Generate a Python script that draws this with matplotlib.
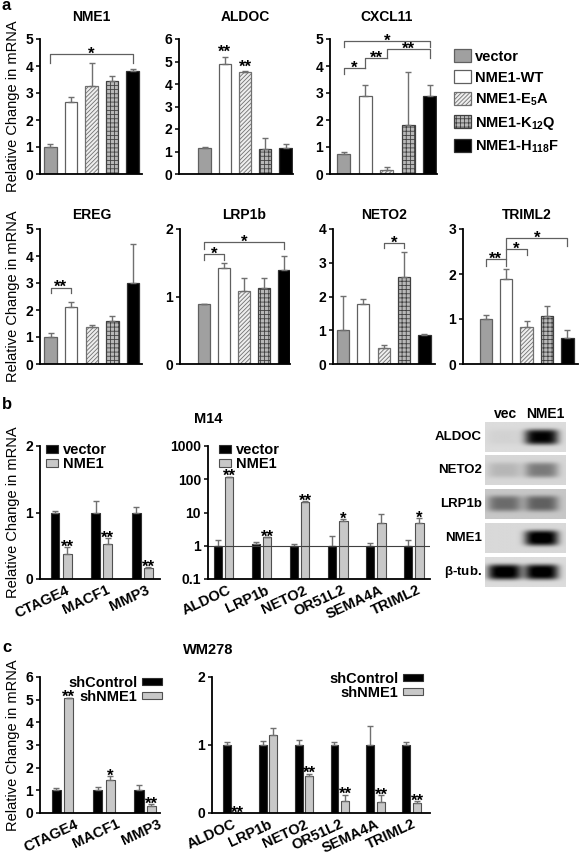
import numpy as np
import matplotlib.pyplot as plt
from matplotlib.patches import Patch
from matplotlib.transforms import blended_transform_factory

plt.rcParams['font.family'] = ['Liberation Sans', 'DejaVu Sans']
plt.rcParams['font.weight'] = 'bold'
plt.rcParams['mathtext.default'] = 'regular'
plt.rcParams['hatch.linewidth'] = 0.6

W, H = 579, 857

# ---------------- data: panel a ----------------
constructs = ['vector', 'NME1-WT', 'NME1-E$_5$A', 'NME1-K$_{12}$Q', 'NME1-H$_{118}$F']

nme1_mean = [1.0, 2.65, 3.25, 3.45, 3.8]
nme1_err = [0.1, 0.2, 0.85, 0.17, 0.1]
aldoc_mean = [1.15, 4.9, 4.55, 1.1, 1.15]
aldoc_err = [0.03, 0.32, 0.02, 0.5, 0.17]
cxcl11_mean = [0.75, 2.9, 0.15, 1.8, 2.9]
cxcl11_err = [0.08, 0.4, 0.12, 1.98, 0.4]
ereg_mean = [1.0, 2.1, 1.38, 1.6, 3.0]
ereg_err = [0.15, 0.2, 0.07, 0.17, 1.45]
lrp1b_mean = [0.89, 1.42, 1.08, 1.12, 1.4]
lrp1b_err = [0.005, 0.08, 0.19, 0.15, 0.2]
neto2_mean = [1.02, 1.78, 0.47, 2.58, 0.87]
neto2_err = [1.0, 0.15, 0.08, 0.73, 0.01]
triml2_mean = [1.0, 1.9, 0.83, 1.07, 0.58]
triml2_err = [0.1, 0.22, 0.12, 0.22, 0.17]

# significance brackets: (bar i, bar j, height, lower end i, lower end j, label)
nme1_sig = [(0, 4, 4.45, 4.1, 4.1, '*')]
aldoc_stars = [(1, '**'), (2, '**')]
cxcl11_sig = [(0, 1, 3.93, 3.7, 3.93, '*'), (1, 2, 4.28, 3.93, 4.28, '**'),
              (2, 4, 4.63, 4.28, 4.3, '**'), (0, 4, 4.93, 4.7, 4.7, '*')]
ereg_sig = [(0, 1, 2.83, 2.62, 2.62, '**')]
lrp1b_sig = [(0, 1, 1.625, 1.54, 1.54, '*'), (0, 4, 1.81, 1.7, 1.7, '*')]
neto2_sig = [(2, 3, 3.59, 3.43, 3.43, '*')]
triml2_sig = [(0, 1, 2.33, 2.18, 2.18, '**'), (1, 2, 2.56, 2.33, 2.42, '*'),
              (1, 4, 2.8, 2.56, 2.63, '*')]

# ---------------- data: panel b ----------------
b_genes_left = ['CTAGE4', 'MACF1', 'MMP3']
b_vec_left = [1.0, 1.0, 1.0]
b_vec_left_err = [0.03, 0.17, 0.08]
b_nme_left = [0.38, 0.53, 0.16]
b_nme_left_err = [0.1, 0.08, 0.02]
b_stars_left = ['**', '**', '**']

b_genes_m14 = ['ALDOC', 'LRP1b', 'NETO2', 'OR51L2', 'SEMA4A', 'TRIML2']
b_vec_m14 = [1.0, 1.15, 1.0, 1.0, 1.0, 1.0]
b_vec_m14_err = [0.44, 0.14, 0.15, 1.0, 0.25, 0.5]
b_nme_m14 = [117, 1.8, 21, 5.4, 5.0, 5.0]
b_nme_m14_err = [3, 0.05, 1, 0.8, 4.2, 1.9]
b_stars_m14 = ['**', '**', '**', '*', '', '*']

blot_rows = ['ALDOC', 'NETO2', 'LRP1b', 'NME1', r'$\beta$-tub.']
blot_lanes = ['vec', 'NME1']
band_vec = [0.04, 0.14, 0.4, 0.0, 1.0]
band_nme1 = [0.95, 0.4, 0.45, 1.0, 1.0]

# ---------------- data: panel c ----------------
c_genes_left = ['CTAGE4', 'MACF1', 'MMP3']
c_ctl_left = [1.0, 1.0, 1.0]
c_ctl_left_err = [0.1, 0.15, 0.22]
c_sh_left = [5.07, 1.47, 0.3]
c_sh_left_err = [0.02, 0.15, 0.08]
c_stars_left = ['**', '*', '**']

c_genes_right = ['ALDOC', 'LRP1b', 'NETO2', 'OR51L2', 'SEMA4A', 'TRIML2']
c_ctl_right = [1.0, 1.0, 1.0, 1.0, 1.0, 1.0]
c_ctl_right_err = [0.05, 0.06, 0.08, 0.05, 0.28, 0.05]
c_sh_right = [0.0, 1.15, 0.54, 0.18, 0.16, 0.14]
c_sh_right_err = [0.0, 0.1, 0.04, 0.09, 0.1, 0.03]
c_stars_right = ['**', '', '**', '**', '**', '**']

# ---------------- styles ----------------
faces = ['#a0a0a0', 'white', '#eeeeee', '#b8b8b8', 'black']
edges = ['#606060', '#606060', '#707070', '#404040', '#303030']
hatches = [None, None, '////////', '++++', None]
ERR = '#707070'

fig = plt.figure(figsize=(W / 100, H / 100), dpi=100)


def add_ax(x0, x1, ytop, ybot):
    ax = fig.add_axes([x0 / W, 1 - ybot / H, (x1 - x0) / W, (ybot - ytop) / H])
    for s in ['top', 'right']:
        ax.spines[s].set_visible(False)
    for s in ['left', 'bottom']:
        ax.spines[s].set_linewidth(1.3)
    ax.tick_params(axis='y', length=3, width=1.1, labelsize=10, pad=2)
    ax.tick_params(axis='x', length=0, labelsize=10)
    return ax


def ttl(ax, x, ypix, text, size=10):
    tr = blended_transform_factory(ax.transData, fig.transFigure)
    ax.text(x, 1 - ypix / H, text, transform=tr, ha='center', va='center',
            fontsize=size, fontweight='bold')


def star(ax, x, y, label, dy=0):
    ax.annotate(label, xy=(x, y), xytext=(0, dy), textcoords='offset points',
                ha='center', va='center', fontsize=12, fontweight='bold')


def panel_a(x0, x1, ytop, ybot, xlim, ymax, means, errs, title, tpix, sig=(), stars=()):
    ax = add_ax(x0, x1, ytop, ybot)
    x = np.arange(len(means))
    for i in x:
        ax.bar(x[i], means[i], 0.6, color=faces[i], edgecolor=edges[i],
               hatch=hatches[i], linewidth=0.9)
    ax.errorbar(x, means, yerr=[np.zeros(len(errs)), errs], fmt='none',
                ecolor=ERR, elinewidth=1, capsize=2.2, capthick=1)
    for i, j, h, li, lj, lab in sig:
        ax.plot([i, i, j, j], [li, h, h, lj], color='#606060', lw=0.9)
        star(ax, (i + j) / 2, h, lab, dy=0)
    for i, lab in stars:
        star(ax, i, means[i] + errs[i], lab, dy=3)
    ax.set_xlim(*xlim)
    ax.set_ylim(0, ymax)
    ax.set_yticks(np.arange(0, ymax + 1))
    ax.set_xticks([])
    ttl(ax, 2, tpix, title)
    return ax


YL = dict(fontsize=10.5, fontweight='normal', labelpad=4)

# panel a, top row
ax = panel_a(40, 142, 39, 174, (-0.51, 4.46), 5, nme1_mean, nme1_err, 'NME1', 17, nme1_sig)
ax.set_ylabel('Relative Change in mRNA', **YL)
panel_a(179, 293, 39, 174, (-1.26, 4.37), 6, aldoc_mean, aldoc_err, 'ALDOC', 17, stars=aldoc_stars)
panel_a(330, 437, 39, 174, (-0.65, 4.35), 5, cxcl11_mean, cxcl11_err, 'CXCL11', 17, cxcl11_sig)

# panel a, bottom row
ax = panel_a(40, 142, 229, 364, (-0.51, 4.44), 5, ereg_mean, ereg_err, 'EREG', 215, ereg_sig)
ax.set_ylabel('Relative Change in mRNA', **YL)
panel_a(180, 290, 229, 364, (-1.2, 4.3), 2, lrp1b_mean, lrp1b_err, 'LRP1b', 215, lrp1b_sig)
panel_a(333, 435, 229, 364, (-0.49, 4.52), 4, neto2_mean, neto2_err, 'NETO2', 215, neto2_sig)
panel_a(463, 578, 229, 364, (-1.11, 4.52), 3, triml2_mean, triml2_err, 'TRIML2', 215, triml2_sig)

# legend for panel a
handles = [Patch(facecolor=faces[i], edgecolor=edges[i], hatch=hatches[i], linewidth=0.9)
           for i in range(5)]
fig.legend(handles, constructs, loc='upper left', bbox_to_anchor=(454 / W, 1 - 49 / H),
           frameon=False, fontsize=10.5, handlelength=1.15, handleheight=1.0,
           labelspacing=0.46, handletextpad=0.3, borderaxespad=0, borderpad=0)


def pair_panel(x0, x1, ytop, ybot, xlim, genes, v1, e1, v2, e2, stars, c1, c2, labels,
               log=False, star_dy=0, tick_shift=0.1):
    ax = add_ax(x0, x1, ytop, ybot)
    x = np.arange(len(genes))
    w, off = 0.22, 0.15
    if log:
        ax.set_yscale('log')
        base = 0.1
    else:
        base = 0
    ax.bar(x - off, np.array(v1) - base, w, bottom=base, color=c1, edgecolor='#303030',
           linewidth=0.8, label=labels[0])
    ax.bar(x + off, np.array(v2) - base, w, bottom=base, color=c2, edgecolor='#505050',
           linewidth=0.8, label=labels[1])
    ax.errorbar(x - off, v1, yerr=[np.zeros(len(e1)), e1], fmt='none', ecolor=ERR,
                elinewidth=1, capsize=2, capthick=1)
    ax.errorbar(x + off, v2, yerr=[np.zeros(len(e2)), e2], fmt='none', ecolor=ERR,
                elinewidth=1, capsize=2, capthick=1)
    for i, lab in enumerate(stars):
        if lab:
            star(ax, x[i] + off, v2[i] + e2[i], lab, dy=star_dy)
    ax.set_xlim(*xlim)
    ax.set_xticks(x + tick_shift)
    ax.set_xticklabels(genes, rotation=25, ha='right', va='top', rotation_mode='anchor',
                       fontsize=10.5, fontweight='bold')
    ax.tick_params(axis='x', pad=3)
    return ax


LEG_B = dict(frameon=False, fontsize=10.5, handlelength=0.85, handleheight=0.4,
             labelspacing=0.0, handletextpad=0.3, borderaxespad=0, borderpad=0)
LEG_C = dict(frameon=False, fontsize=10.5, handlelength=1.4, handleheight=0.35,
             labelspacing=0.0, handletextpad=0.3, borderaxespad=0, borderpad=0,
             markerfirst=False)

# panel b
ax = pair_panel(40, 160, 446, 579, (-0.52, 2.44), b_genes_left, b_vec_left, b_vec_left_err,
                b_nme_left, b_nme_left_err, b_stars_left, 'black', '#c8c8c8', ['vector', 'NME1'])
ax.set_ylim(0, 2)
ax.set_yticks([0, 1, 2])
ax.set_ylabel('Relative Change in mRNA', **YL)
ax.legend(loc='upper left', bbox_to_anchor=(0.05, 1.02), **LEG_B)

ax = pair_panel(208, 430, 446, 579, (-0.41, 5.43), b_genes_m14, b_vec_m14, b_vec_m14_err,
                b_nme_m14, b_nme_m14_err, b_stars_m14, 'black', '#c8c8c8', ['vector', 'NME1'],
                log=True)
ax.set_ylim(0.1, 1000)
ax.set_yticks([0.1, 1, 10, 100, 1000])
ax.set_yticklabels(['0.1', '1', '10', '100', '1000'])
ax.minorticks_off()
ax.axhline(1, color='#404040', lw=0.8)
ax.legend(loc='upper left', bbox_to_anchor=(0.05, 1.02), **LEG_B)
fig.text(208 / W, 1 - 419 / H, 'M14', ha='center', va='center', fontsize=10.5, fontweight='bold')

# western blot
row_top = [422, 455, 489, 523, 557]
row_h = 30
bg = [0.86, 0.84, 0.78, 0.85, 0.86]
xs = np.linspace(0, 1, 120)
ys = np.linspace(0, 1, 40)
XX, YY = np.meshgrid(xs, ys)
for r, name in enumerate(blot_rows):
    bax = fig.add_axes([485 / W, 1 - (row_top[r] + row_h) / H, 81 / W, row_h / H])
    img = np.full(XX.shape, bg[r])
    for c, inten in zip([0.24, 0.70], [band_vec[r], band_nme1[r]]):
        img = img - 0.9 * inten * np.exp(-((XX - c) / 0.21) ** 4 - ((YY - 0.5) / 0.26) ** 4)
    bax.imshow(np.clip(img, 0, 1), cmap='gray', vmin=0, vmax=1, aspect='auto',
               interpolation='bilinear')
    bax.set_xticks([])
    bax.set_yticks([])
    for s in bax.spines.values():
        s.set_visible(False)
    fig.text(482 / W, 1 - (row_top[r] + row_h / 2) / H, name, ha='right', va='center',
             fontsize=9.5, fontweight='bold')
for lane, xp in zip(blot_lanes, [505, 545]):
    fig.text(xp / W, 1 - 414 / H, lane, ha='center', va='center', fontsize=10,
             fontweight='bold')

# panel c
ax = pair_panel(40, 160, 677, 813, (-0.55, 2.36), c_genes_left, c_ctl_left, c_ctl_left_err,
                c_sh_left, c_sh_left_err, c_stars_left, 'black', '#c8c8c8',
                ['shControl', 'shNME1'], tick_shift=0.3)
ax.set_ylim(0, 6)
ax.set_yticks(np.arange(0, 7))
ax.set_ylabel('Relative Change in mRNA', **YL)
ax.legend(loc='upper right', bbox_to_anchor=(1.02, 1.01), **LEG_C)

ax = pair_panel(212, 430, 677, 813, (-0.56, 5.51), c_genes_right, c_ctl_right, c_ctl_right_err,
                c_sh_right, c_sh_right_err, c_stars_right, 'black', '#c8c8c8',
                ['shControl', 'shNME1'], tick_shift=0.0)
ax.set_ylim(0, 2)
ax.set_yticks([0, 1, 2])
ax.legend(loc='upper right', bbox_to_anchor=(0.97, 1.04), **LEG_C)
fig.text(208 / W, 1 - 650 / H, 'WM278', ha='center', va='center', fontsize=10.5,
         fontweight='bold')

# panel letters
for lab, yp in [('a', 6), ('b', 404), ('c', 648)]:
    fig.text(2 / W, 1 - yp / H, lab, ha='left', va='center', fontsize=12, fontweight='bold')

fig.savefig('out.png', dpi=100)
